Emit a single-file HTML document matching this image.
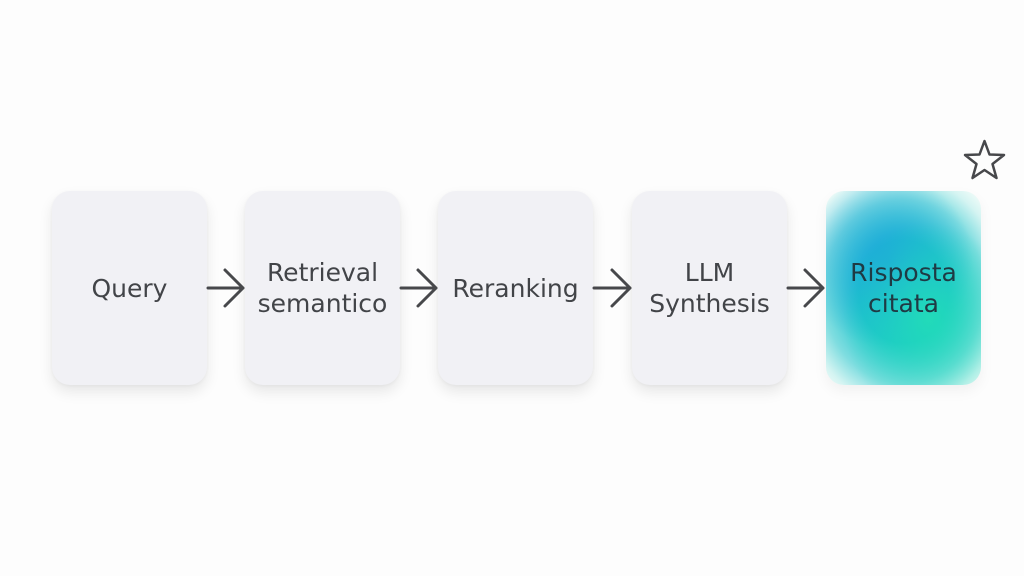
<!DOCTYPE html>
<html><head><meta charset="utf-8"><style>
html,body{margin:0;padding:0;}
body{width:1024px;height:576px;background:#fdfdfd;position:relative;overflow:hidden;font-family:"DejaVu Sans","Liberation Sans",sans-serif;}
.box{position:absolute;top:191px;width:155px;height:194px;border-radius:18px;background:#f1f1f5;box-shadow:0 7px 14px rgba(0,0,0,0.09),0 1px 3px rgba(0,0,0,0.04);display:flex;align-items:center;justify-content:center;text-align:center;color:#424448;font-size:25px;line-height:31px;}
.g{background:
 radial-gradient(ellipse 55% 50% at 66% 66%, rgba(34,220,184,0.95) 0%, rgba(34,220,184,0) 100%),
 radial-gradient(ellipse 55% 45% at 40% 36%, rgba(30,165,220,0.9) 0%, rgba(30,165,220,0) 100%),
 radial-gradient(ellipse 72% 66% at 50% 52%, #18c0d2 0%, #1bc4cc 40%, #7fdde0 72%, #d4f4f2 90%, #eefbf8 100%);
 color:#1f3a44;box-shadow:0 6px 14px rgba(0,0,0,0.05);}
svg{position:absolute;left:0;top:0;}
</style></head><body>
<div class="box" style="left:52px;">Query</div>
<div class="box" style="left:245px;">Retrieval<br>semantico</div>
<div class="box" style="left:438px;">Reranking</div>
<div class="box" style="left:632px;">LLM<br>Synthesis</div>
<div class="box g" style="left:826px;">Risposta<br>citata</div>
<svg width="1024" height="576" viewBox="0 0 1024 576">
<g fill="none" stroke="#47484b" stroke-width="3" stroke-linecap="round" stroke-linejoin="round">
<path d="M208 288 H243 M225 270 L243 288 L225 306"/>
<path d="M401 288 H436 M418 270 L436 288 L418 306"/>
<path d="M594 288 H630 M612 270 L630 288 L612 306"/>
<path d="M788 288 H823 M805 270 L823 288 L805 306"/>
<path d="M984.5 141 L989.5 154.5 L1004 155 L992.5 164 L996.5 178 L984.5 170 L972.5 178 L976.5 164 L965 155 L979.5 154.5 Z" stroke-width="2.5"/>
</g>
</svg>
</body></html>
